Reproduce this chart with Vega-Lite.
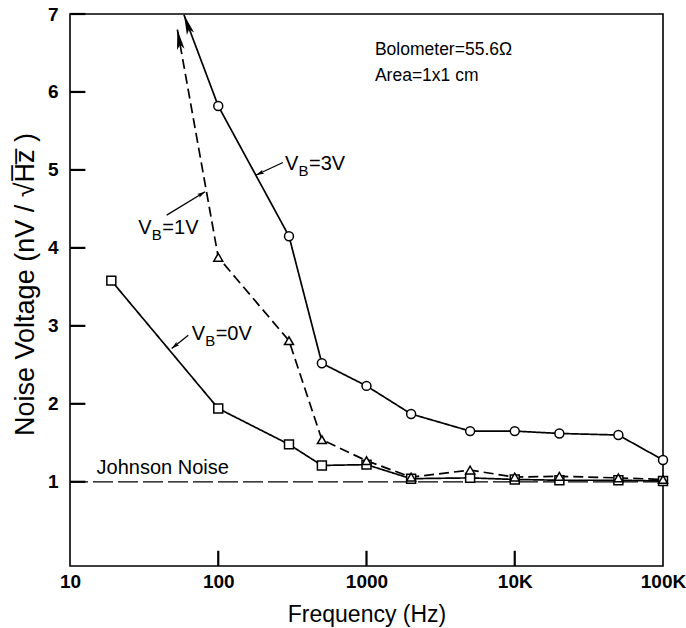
{
  "$schema": "https://vega.github.io/schema/vega-lite/v6.json",
  "width": 593,
  "height": 552,
  "autosize": {"type": "none"},
  "padding": {"left": 70, "top": 14, "right": 23, "bottom": 62},
  "background": "white",
  "config": {
    "view": {"stroke": "black", "strokeWidth": 1.6},
    "font": "Liberation Sans",
    "axis": {
      "domain": false, "ticks": false, "tickSize": 0,
      "grid": false, "labelColor": "black", "titleColor": "black",
      "labelFont": "Liberation Sans", "titleFont": "Liberation Sans", "titleFontWeight": "normal"
    }
  },
  "datasets": {
    "curves": [
      {"s": "0V", "f": 19, "v": 3.58, "kind": "pt"},
      {"s": "0V", "f": 100, "v": 1.94, "kind": "pt"},
      {"s": "0V", "f": 300, "v": 1.48, "kind": "pt"},
      {"s": "0V", "f": 500, "v": 1.21, "kind": "pt"},
      {"s": "0V", "f": 1000, "v": 1.22, "kind": "pt"},
      {"s": "0V", "f": 2000, "v": 1.04, "kind": "pt"},
      {"s": "0V", "f": 5000, "v": 1.05, "kind": "pt"},
      {"s": "0V", "f": 10000, "v": 1.03, "kind": "pt"},
      {"s": "0V", "f": 20000, "v": 1.02, "kind": "pt"},
      {"s": "0V", "f": 50000, "v": 1.02, "kind": "pt"},
      {"s": "0V", "f": 100000, "v": 1.01, "kind": "pt"},
      {"s": "1V", "f": 53, "v": 6.8, "kind": "tip"},
      {"s": "1V", "f": 100, "v": 3.88, "kind": "pt"},
      {"s": "1V", "f": 300, "v": 2.81, "kind": "pt"},
      {"s": "1V", "f": 500, "v": 1.54, "kind": "pt"},
      {"s": "1V", "f": 1000, "v": 1.27, "kind": "pt"},
      {"s": "1V", "f": 2000, "v": 1.06, "kind": "pt"},
      {"s": "1V", "f": 5000, "v": 1.15, "kind": "pt"},
      {"s": "1V", "f": 10000, "v": 1.06, "kind": "pt"},
      {"s": "1V", "f": 20000, "v": 1.07, "kind": "pt"},
      {"s": "1V", "f": 50000, "v": 1.05, "kind": "pt"},
      {"s": "1V", "f": 100000, "v": 1.03, "kind": "pt"},
      {"s": "3V", "f": 58.7, "v": 6.99, "kind": "tip"},
      {"s": "3V", "f": 100, "v": 5.82, "kind": "pt"},
      {"s": "3V", "f": 300, "v": 4.15, "kind": "pt"},
      {"s": "3V", "f": 500, "v": 2.52, "kind": "pt"},
      {"s": "3V", "f": 1000, "v": 2.23, "kind": "pt"},
      {"s": "3V", "f": 2000, "v": 1.87, "kind": "pt"},
      {"s": "3V", "f": 5000, "v": 1.65, "kind": "pt"},
      {"s": "3V", "f": 10000, "v": 1.65, "kind": "pt"},
      {"s": "3V", "f": 20000, "v": 1.62, "kind": "pt"},
      {"s": "3V", "f": 50000, "v": 1.6, "kind": "pt"},
      {"s": "3V", "f": 100000, "v": 1.28, "kind": "pt"}
    ],
    "labels": [
      {"s": "3V", "f": 282, "v": 5.0, "t": "=3V"},
      {"s": "1V", "f": 28.9, "v": 4.18, "t": "=1V"},
      {"s": "0V", "f": 66.2, "v": 2.82, "t": "=0V"}
    ],
    "pointers": [
      {"s": "3V", "f1": 273, "v1": 5.095, "f2": 180, "v2": 4.935},
      {"s": "1V", "f1": 44.9, "v1": 4.42, "f2": 81.5, "v2": 4.72},
      {"s": "0V", "f1": 62.8, "v1": 2.88, "f2": 48.5, "v2": 2.71}
    ],
    "notes": [
      {"k": "box", "f": 1140, "v": 6.47, "t": "Bolometer=55.6Ω"},
      {"k": "box", "f": 1140, "v": 6.14, "t": "Area=1x1 cm"},
      {"k": "jn", "f": 15.1, "v": 1.1, "t": "Johnson Noise"}
    ],
    "yticks": [{"v": 1}, {"v": 2}, {"v": 3}, {"v": 4}, {"v": 5}, {"v": 6}, {"v": 7}],
    "xticks": [{"f": 100}, {"f": 1000}, {"f": 10000}]
  },
  "layer": [
    {
      "data": {"values": [{"v": 1}]},
      "mark": {"type": "rule", "color": "black", "strokeWidth": 1.2, "strokeDash": [20, 5]},
      "encoding": {
        "y": {"field": "v", "type": "quantitative", "scale": {"domain": [-0.08, 7], "nice": false, "zero": false}}
      }
    },
    {
      "data": {"name": "yticks"},
      "mark": {"type": "rule", "color": "black", "strokeWidth": 2.2},
      "encoding": {
        "y": {"field": "v", "type": "quantitative"},
        "x": {"datum": 10, "type": "quantitative"},
        "x2": {"datum": 12.7}
      }
    },
    {
      "data": {"name": "xticks"},
      "mark": {"type": "rule", "color": "black", "strokeWidth": 2.2},
      "encoding": {
        "x": {"field": "f", "type": "quantitative"},
        "y": {"datum": -0.08, "type": "quantitative"},
        "y2": {"datum": 0.115}
      }
    },
    {
      "data": {"name": "curves"},
      "mark": {"type": "line", "color": "black", "strokeWidth": 1.7},
      "encoding": {
        "x": {
          "field": "f", "type": "quantitative",
          "scale": {"type": "log", "domain": [10, 100000], "nice": false},
          "axis": {
            "title": "Frequency (Hz)",
            "values": [10, 100, 1000, 10000, 100000],
            "labelExpr": "datum.value >= 10000 ? format(datum.value/1000, 'd') + 'K' : format(datum.value, 'd')",
            "labelPadding": 6, "labelFontSize": 19, "labelFontWeight": "bold", "labelFlush": false, "labelOverlap": false,
            "titleFontSize": 23, "titleY": 55, "titleBaseline": "alphabetic"
          }
        },
        "y": {
          "field": "v", "type": "quantitative",
          "scale": {"domain": [-0.08, 7], "nice": false, "zero": false},
          "axis": {
            "title": "Noise Voltage (nV / √H̅z̅ )",
            "values": [1, 2, 3, 4, 5, 6, 7], "format": "d",
            "labelPadding": 12, "labelFontSize": 19, "labelFontWeight": "bold", "labelFlush": false, "labelOverlap": false,
            "titleFontSize": 27, "titleX": -37, "titleY": 270, "titleBaseline": "alphabetic", "titleAngle": 270
          }
        },
        "detail": {"field": "s"},
        "strokeDash": {"field": "s", "type": "nominal", "scale": {"domain": ["0V", "1V", "3V"], "range": [[1, 0], [10, 5], [1, 0]]}, "legend": null},
        "order": {"field": "f", "type": "quantitative"}
      }
    },
    {
      "data": {"name": "curves"},
      "transform": [{"filter": "datum.kind == 'pt'"}],
      "mark": {"type": "point", "filled": true, "fill": "white", "stroke": "black", "strokeWidth": 1.5, "opacity": 1, "size": 80},
      "encoding": {
        "x": {"field": "f", "type": "quantitative"},
        "y": {"field": "v", "type": "quantitative"},
        "shape": {"field": "s", "type": "nominal", "scale": {"domain": ["0V", "1V", "3V"], "range": ["square", "triangle-up", "circle"]}, "legend": null}
      }
    },
    {
      "data": {"name": "curves"},
      "transform": [{"filter": "datum.kind == 'tip' && datum.s == '3V'"}],
      "mark": {"type": "point", "shape": "M0,0L-0.38,2L0,1.55L0.38,2Z", "size": 400, "angle": 340.8, "filled": true, "color": "black", "opacity": 1},
      "encoding": {"x": {"field": "f", "type": "quantitative"}, "y": {"field": "v", "type": "quantitative"}}
    },
    {
      "data": {"name": "curves"},
      "transform": [{"filter": "datum.kind == 'tip' && datum.s == '1V'"}],
      "mark": {"type": "point", "shape": "M0,0L-0.38,2L0,1.55L0.38,2Z", "size": 400, "angle": 350.2, "filled": true, "color": "black", "opacity": 1},
      "encoding": {"x": {"field": "f", "type": "quantitative"}, "y": {"field": "v", "type": "quantitative"}}
    },
    {
      "data": {"name": "pointers"},
      "mark": {"type": "rule", "color": "black", "strokeWidth": 1.3},
      "encoding": {
        "x": {"field": "f1", "type": "quantitative"}, "y": {"field": "v1", "type": "quantitative"},
        "x2": {"field": "f2"}, "y2": {"field": "v2"}
      }
    },
    {
      "data": {"name": "pointers"},
      "transform": [{"filter": "datum.s == '3V'"}],
      "mark": {"type": "point", "shape": "M0,0L-0.55,2L0,1.6L0.55,2Z", "size": 64, "angle": 245.2, "filled": true, "color": "black", "opacity": 1},
      "encoding": {"x": {"field": "f2", "type": "quantitative"}, "y": {"field": "v2", "type": "quantitative"}}
    },
    {
      "data": {"name": "pointers"},
      "transform": [{"filter": "datum.s == '1V'"}],
      "mark": {"type": "point", "shape": "M0,0L-0.55,2L0,1.6L0.55,2Z", "size": 64, "angle": 58.7, "filled": true, "color": "black", "opacity": 1},
      "encoding": {"x": {"field": "f2", "type": "quantitative"}, "y": {"field": "v2", "type": "quantitative"}}
    },
    {
      "data": {"name": "pointers"},
      "transform": [{"filter": "datum.s == '0V'"}],
      "mark": {"type": "point", "shape": "M0,0L-0.55,2L0,1.6L0.55,2Z", "size": 64, "angle": 231.3, "filled": true, "color": "black", "opacity": 1},
      "encoding": {"x": {"field": "f2", "type": "quantitative"}, "y": {"field": "v2", "type": "quantitative"}}
    },
    {
      "data": {"name": "labels"},
      "mark": {"type": "text", "text": "V", "align": "left", "baseline": "alphabetic", "fontSize": 20, "color": "black"},
      "encoding": {"x": {"field": "f", "type": "quantitative"}, "y": {"field": "v", "type": "quantitative"}}
    },
    {
      "data": {"name": "labels"},
      "mark": {"type": "text", "text": "B", "align": "left", "baseline": "alphabetic", "fontSize": 15, "dx": 13.5, "dy": 6, "color": "black"},
      "encoding": {"x": {"field": "f", "type": "quantitative"}, "y": {"field": "v", "type": "quantitative"}}
    },
    {
      "data": {"name": "labels"},
      "mark": {"type": "text", "align": "left", "baseline": "alphabetic", "fontSize": 20, "dx": 24, "color": "black"},
      "encoding": {"x": {"field": "f", "type": "quantitative"}, "y": {"field": "v", "type": "quantitative"}, "text": {"field": "t"}}
    },
    {
      "data": {"name": "notes"},
      "transform": [{"filter": "datum.k == 'box'"}],
      "mark": {"type": "text", "align": "left", "baseline": "alphabetic", "fontSize": 17.5, "color": "black"},
      "encoding": {"x": {"field": "f", "type": "quantitative"}, "y": {"field": "v", "type": "quantitative"}, "text": {"field": "t"}}
    },
    {
      "data": {"name": "notes"},
      "transform": [{"filter": "datum.k == 'jn'"}],
      "mark": {"type": "text", "align": "left", "baseline": "alphabetic", "fontSize": 20, "color": "black"},
      "encoding": {"x": {"field": "f", "type": "quantitative"}, "y": {"field": "v", "type": "quantitative"}, "text": {"field": "t"}}
    }
  ]
}
